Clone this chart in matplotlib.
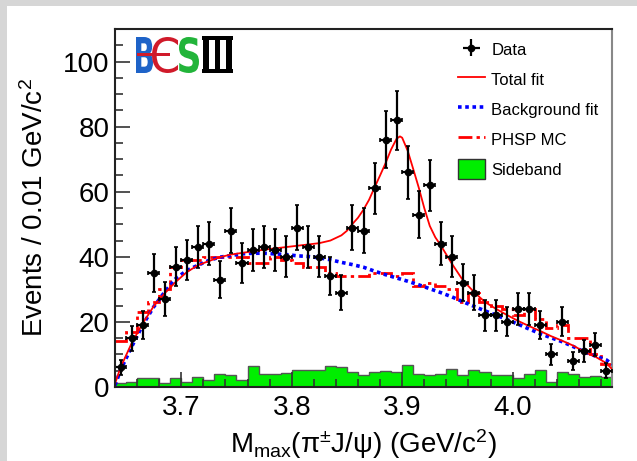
import numpy as np
import matplotlib
matplotlib.use('Agg')
import matplotlib.pyplot as plt
from matplotlib.lines import Line2D
from matplotlib.patches import Patch, Rectangle, PathPatch
from matplotlib.path import Path
from matplotlib.textpath import TextPath
from matplotlib.font_manager import FontProperties
from matplotlib.ticker import MultipleLocator

plt.rcParams['font.family'] = ['Liberation Sans', 'DejaVu Sans']
plt.rcParams['mathtext.fontset'] = 'custom'
plt.rcParams['mathtext.rm'] = 'Liberation Sans'
plt.rcParams['mathtext.it'] = 'Liberation Sans'

# data: 0.01 GeV bins from 3.64 to 4.09
bin_edges = np.round(np.arange(3.64, 4.0901, 0.01), 3)
bin_centers = (bin_edges[:-1] + bin_edges[1:]) / 2
data_counts = [6, 15, 19, 35, 27, 37, 39, 43, 44, 33,
               48, 38, 42, 43, 42, 40, 49, 43, 40, 34,
               29, 49, 48, 61, 76, 82, 66, 53, 62, 44,
               40, 32, 29, 22, 22, 20, 24, 24, 19, 10,
               20, 8, 11, 13, 5]
sideband = [1.2, 1.6, 2.7, 2.7, 1.2, 2.7, 1.6, 3.0, 2.3, 4.0,
            3.7, 2.3, 6.4, 4.0, 4.0, 4.4, 5.2, 5.2, 5.2, 6.4,
            6.0, 4.7, 3.6, 4.7, 5.0, 4.7, 6.9, 4.0, 3.7, 4.0,
            5.6, 3.7, 5.2, 4.7, 3.7, 3.7, 2.7, 4.0, 5.3, 1.5,
            4.7, 4.0, 3.2, 3.5, 3.2]
phsp_mc = [14, 17, 23, 26, 30, 37, 39, 39, 40, 40,
           40, 40, 38, 38, 40, 39, 38, 37, 37, 35,
           34, 34, 34, 35, 35, 34, 35, 31, 32, 31,
           30, 26, 29, 26, 25, 24, 22, 24, 21, 18,
           19, 15, 15, 10, 7]

total_x = [3.640, 3.645, 3.655, 3.665, 3.675, 3.685, 3.695, 3.705, 3.715, 3.725,
           3.735, 3.745, 3.755, 3.765, 3.775, 3.785, 3.795, 3.805, 3.815, 3.825,
           3.835, 3.845, 3.850, 3.855, 3.860, 3.865, 3.870, 3.875, 3.880, 3.885,
           3.890, 3.895, 3.898, 3.900, 3.905, 3.910, 3.915, 3.920, 3.925, 3.930,
           3.935, 3.945, 3.955, 3.965, 3.975, 3.985, 3.995, 4.005, 4.015, 4.025,
           4.035, 4.045, 4.055, 4.065, 4.075, 4.085, 4.090]
total_y = [1.0, 6.0, 13.4, 19.5, 24.8, 28.8, 32.3, 35.3, 37.4, 38.7,
           39.9, 40.7, 41.2, 41.7, 42.2, 42.6, 43.0, 43.4, 43.8, 44.2,
           45.0, 46.6, 48.0, 50.1, 52.0, 54.5, 57.5, 61.3, 65.0, 68.8,
           73.0, 76.3, 77.0, 76.6, 72.6, 67.0, 61.3, 55.0, 49.5, 46.0,
           43.5, 37.9, 32.8, 29.2, 26.1, 24.0, 22.1, 20.3, 18.7, 17.2,
           15.6, 14.2, 12.7, 10.8, 9.3, 7.3, 5.5]

bkg_x = [3.640, 3.645, 3.655, 3.665, 3.675, 3.685, 3.695, 3.705, 3.715, 3.725,
         3.735, 3.745, 3.755, 3.765, 3.775, 3.785, 3.795, 3.805, 3.815, 3.825,
         3.835, 3.845, 3.855, 3.865, 3.875, 3.885, 3.895, 3.905, 3.915, 3.925,
         3.935, 3.945, 3.955, 3.965, 3.975, 3.985, 3.995, 4.005, 4.015, 4.025,
         4.035, 4.045, 4.055, 4.065, 4.075, 4.085, 4.090]
bkg_y = [0.5, 5.2, 12.3, 19.0, 24.6, 29.2, 33.3, 35.8, 37.4, 38.9,
         39.9, 40.4, 40.9, 41.1, 41.1, 40.9, 40.7, 40.3, 40.1, 39.7,
         39.1, 38.3, 37.6, 36.8, 35.6, 34.5, 33.5, 32.5, 31.4, 30.2,
         29.0, 27.7, 26.2, 24.8, 23.4, 22.1, 20.7, 19.3, 17.8, 16.4,
         15.1, 13.9, 12.4, 10.8, 9.5, 8.3, 7.0]

W, H = 637, 461
fig = plt.figure(figsize=(W / 100, H / 100), dpi=100)
fig.patch.set_facecolor('#d6d6d6')
fig.patches.append(Rectangle((7 / W, 0), 1, 1 - 6 / H,
                             transform=fig.transFigure, facecolor='white',
                             edgecolor='none', zorder=-10))

ax = fig.add_axes([115 / W, 1 - 387 / H, (612 - 115) / W, (387 - 29) / H])
ax.set_facecolor('white')

# sideband histogram
ax.stairs(sideband, bin_edges, fill=True, facecolor='#00ee00', edgecolor='none', zorder=1)
ax.stairs(sideband, bin_edges, color='#555555', lw=1.0, baseline=None, zorder=1.5)

# MC and fits
ax.stairs(phsp_mc, bin_edges, color='red', lw=2.0, linestyle=(0, (5, 1.5, 1.2, 1.5)),
          baseline=None, zorder=2)
ax.plot(bkg_x, bkg_y, color='blue', lw=2.6, linestyle=(0, (1, 1)), zorder=3)
ax.plot(total_x, total_y, color='red', lw=1.3, zorder=4)

# data points
err = np.sqrt(data_counts)
ax.errorbar(bin_centers, data_counts, yerr=err, xerr=0.005, fmt='o', color='black',
            ms=4.5, elinewidth=1.6, capsize=1.5, capthick=1.2, zorder=5)

ax.set_xlim(3.64, 4.09)
ax.set_ylim(0, 110)
ax.xaxis.set_minor_locator(MultipleLocator(0.02))
ax.yaxis.set_major_locator(MultipleLocator(20))
ax.yaxis.set_minor_locator(MultipleLocator(5))
ax.set_xticks([3.7, 3.8, 3.9, 4.0])
ax.set_xticklabels(['3.7', '3.8', '3.9', '4.0'])
ax.tick_params(which='both', direction='in', top=False, right=False, labelsize=20,
               width=1.2, color='#333333')
ax.tick_params(which='major', length=11)
ax.tick_params(which='minor', length=6)
ax.tick_params(axis='x', pad=6)
ax.tick_params(axis='y', pad=4)
for s in ['left', 'bottom', 'top']:
    ax.spines[s].set_linewidth(1.5)
    ax.spines[s].set_color('#222222')
    ax.spines[s].set_zorder(7)
ax.spines['right'].set_linewidth(1.5)
ax.spines['right'].set_color('#888888')

ax.set_ylabel('Events / 0.01 GeV/c$^{2}$', fontsize=20, labelpad=10)
ax.set_xlabel(r'M$_{\mathrm{max}}$(π$^{\pm}$J/ψ) (GeV/c$^{2}$)', fontsize=20, labelpad=4)

# legend
h_data = ax.errorbar([], [], yerr=[], xerr=[], fmt='o', color='black', ms=4.5,
                     elinewidth=1.6)
h_tot = Line2D([], [], color='red', lw=1.3)
h_bkg = Line2D([], [], color='blue', lw=2.6, linestyle=(0, (1, 1)))
h_mc = Line2D([], [], color='red', lw=2.0, linestyle=(0, (5, 1.5, 1.2, 1.5)))
h_sb = Patch(facecolor='#00ee00', edgecolor='#333333', lw=1.0)
ax.legend([h_data, h_tot, h_bkg, h_mc, h_sb],
          ['Data', 'Total fit', 'Background fit', 'PHSP MC', 'Sideband'],
          loc='upper left', bbox_to_anchor=(458 / W, 1 - 40 / H),
          bbox_transform=fig.transFigure, frameon=False, fontsize=12,
          handlelength=1.6, handleheight=1.45, handletextpad=0.4,
          labelspacing=0.6, borderpad=0, borderaxespad=0)


# BESIII logo, glyphs stretched into pixel boxes (x0, y_bottom, x1, y_top)
def logo_glyph(s, box, color, weight='bold', family='DejaVu Sans'):
    x0, y0, x1, y1 = box
    tp = TextPath((0, 0), s, size=100, prop=FontProperties(family=family, weight=weight))
    ext = tp.get_extents()
    v = tp.vertices.copy()
    v[:, 0] = x0 + (v[:, 0] - ext.x0) / ext.width * (x1 - x0)
    v[:, 1] = y0 + (v[:, 1] - ext.y0) / ext.height * (y1 - y0)
    v[:, 0] /= W
    v[:, 1] = 1 - v[:, 1] / H
    fig.patches.append(PathPatch(Path(v, tp.codes), transform=fig.transFigure,
                                 facecolor=color, edgecolor='none', zorder=10))


logo_glyph('B', (136, 73, 153, 37), '#1e63c8')
logo_glyph('C', (152, 73, 178, 37), '#d01a2a', weight='normal')
fig.patches.append(Rectangle((137 / W, 1 - 56.5 / H), 33 / W, 3 / H,
                             transform=fig.transFigure, facecolor='#d01a2a',
                             edgecolor='none', zorder=11))
logo_glyph('S', (179, 73, 199, 37), '#22b43a')
logo_glyph('III', (203, 70, 232, 40), 'black')
fig.patches.append(Rectangle((202 / W, 1 - 40 / H), 31 / W, 4 / H,
                             transform=fig.transFigure, facecolor='black', zorder=11))
fig.patches.append(Rectangle((202 / W, 1 - 73 / H), 31 / W, 4 / H,
                             transform=fig.transFigure, facecolor='black', zorder=11))

fig.savefig('out.png', dpi=100, facecolor=fig.get_facecolor())
